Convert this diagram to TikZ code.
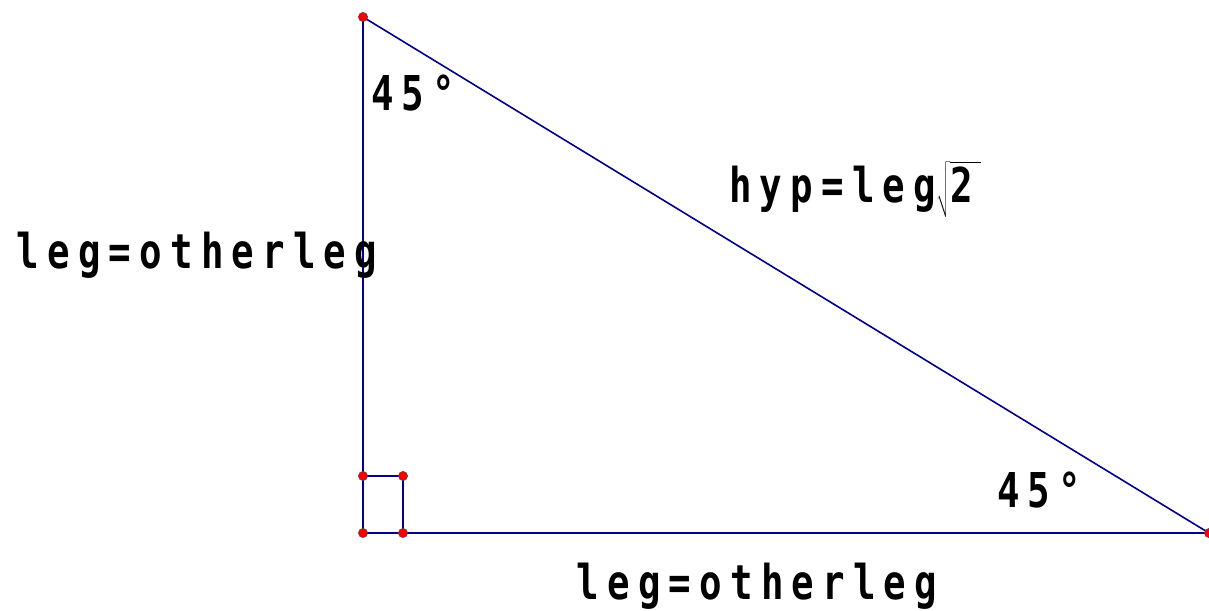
\documentclass[tikz,border=0pt]{standalone}
\usepackage{fontspec}
\usepackage{tikz}
\usetikzlibrary{positioning}
\newfontfamily\labelfont[LetterSpace=17,FakeStretch=0.78]{DejaVu Sans Mono Bold}
\definecolor{TriBlue}{HTML}{00008C}

\begin{document}
\begin{tikzpicture}[
  x=0.75pt, y=-0.75pt,
  side/.style={draw=TriBlue, line width=1.2pt},
  vertex/.style={circle, fill=red, draw=black!75, line width=0.3pt, inner sep=0pt, minimum size=7pt},
  lbl/.style={font=\labelfont\fontsize{36}{40}\selectfont, inner sep=0pt, anchor=base}
]
  \useasboundingbox (0,0) rectangle (1209,610);
  \coordinate (A) at (363,17);
  \coordinate (C) at (363,533);
  \coordinate (B) at (1209,533);
  \coordinate (P) at (363,476);
  \coordinate (Q) at (403,476);
  \coordinate (R) at (403,533);
  \draw[side] (A) -- (C) -- (B) -- cycle;
  \draw[side] (P) -- (Q) -- (R);
  \foreach \v in {A,C,B,P,Q,R}
    \node[vertex] (dot\v) at (\v) {};
  \node[lbl] (angA) at (413,110) {45°};
  \node[lbl] (angB) at (1039,507) {45°};
  \node[lbl] (hyp) at (855,202) {hyp=leg$\sqrt{\hbox{2\,}\rule[-9pt]{0pt}{34pt}}$};
  \node[lbl] (legL) at (197,268) {leg=otherleg};
  \node[lbl] (legB) at (757,599) {leg=otherleg};
\end{tikzpicture}
\end{document}
